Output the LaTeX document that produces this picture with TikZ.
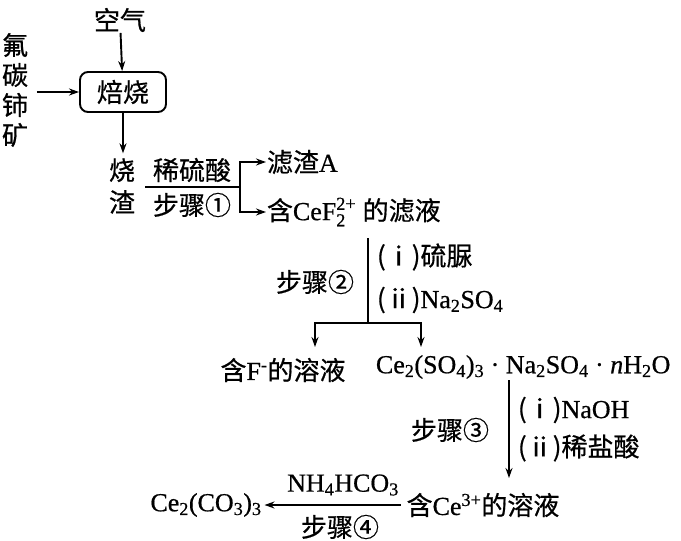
\documentclass[tikz,border=0pt]{standalone}
\usepackage{amsmath}
\usepackage{fontspec}
\setmainfont{Liberation Serif}[FakeBold=0.6]
\newfontfamily\cjk{Noto Sans CJK SC}[FakeBold=0.6]
\usetikzlibrary{arrows.meta}
\newcommand{\zh}[1]{{\cjk #1}}
\newcommand{\sub}[1]{\textsubscript{#1}}
\newcommand{\sups}[1]{\textsuperscript{#1}}
\begin{document}
\begin{tikzpicture}[x=1pt,y=-1pt,
  font=\fontsize{26}{30}\selectfont,
  line width=1.9pt,
  >={Stealth[length=10pt,width=7pt]},
  lbl/.style={inner sep=0pt},
  vert/.style={inner sep=0pt, align=center},
  procbox/.style={draw, rounded corners=8pt, minimum width=86pt, minimum height=40pt, inner sep=0pt}]
\useasboundingbox (0,0) rectangle (681,541);

% top
\node[lbl] (air) at (120,20) {\zh{空气}};
\node[procbox] (roast) at (123,92) {\zh{焙烧}};
\node[vert] (ore) at (15,90) {\zh{氟}\\\zh{碳}\\\zh{铈}\\\zh{矿}};
\draw[->] (air) -- (roast);
\draw[->, shorten <=8pt] (ore.east |- roast.west) -- (roast.west);

\node[vert, font=\fontsize{26}{32}\selectfont] (slag) at (122,186) {\zh{烧}\\\zh{渣}};
\draw[->, shorten >=4pt] (roast.south) -- (roast.south |- slag.north);

% step 1
\coordinate (s1) at (145,187);
\coordinate (j1) at (240,187);
\draw (s1) -- (j1);
\node[lbl] (acid) at (192,170) {\zh{稀硫酸}};
\node[lbl] (st1) at (192,205) {\zh{步骤①}};
\node[lbl, anchor=west] (fa) at (266,162) {\zh{滤渣}A};
\node[lbl, anchor=west] (fb) at (266,212) {\zh{含}Ce$\text{F}_{\text{2}}^{\text{2+}}$ \zh{的滤液}};
\draw[->] (j1) |- (fa.west);
\draw[->] (j1) |- (fb.west);

% step 2
\coordinate (t2) at (368,238);
\coordinate (j2) at (368,323);
\coordinate (aL) at (315,347);
\coordinate (aR) at (421,347);
\draw (t2) -- (j2);
\draw[->] (j2) -| (aL);
\draw[->] (j2) -| (aR);
\node[lbl, anchor=west] (r2a) at (376,257) {\zh{(ⅰ)硫脲}};
\node[lbl, anchor=west] (r2b) at (376,300) {\zh{(ⅱ)}Na\sub{2}SO\sub{4}};
\node[lbl] (st2) at (315,282) {\zh{步骤②}};

\node[lbl] (fsol) at (283,370) {\zh{含}F\sups{-}\zh{的溶液}};
\node[lbl, anchor=west] (salt) at (375,367) {Ce\sub{2}(SO\sub{4})\sub{3} · Na\sub{2}SO\sub{4} · \textit{n}H\sub{2}O};

% step 3
\coordinate (t3) at (509,380);
\coordinate (e3) at (509,478);
\draw[->] (t3) -- (e3);
\node[lbl, anchor=west] (r3a) at (517,410) {\zh{(ⅰ)}NaOH};
\node[lbl, anchor=west] (r3b) at (517,448) {\zh{(ⅱ)稀盐酸}};
\node[lbl] (st3) at (450,430) {\zh{步骤③}};

% step 4
\node[lbl] (ce3) at (483,505) {\zh{含}Ce\sups{3+}\zh{的溶液}};
\node[lbl] (carb) at (206,505) {Ce\sub{2}(CO\sub{3})\sub{3}};
\draw[->, shorten <=5pt, shorten >=2pt] (ce3.west) -- (carb.east);
\node[lbl] (nh4) at (343,485) {NH\sub{4}HCO\sub{3}};
\node[lbl] (st4) at (340,527) {\zh{步骤④}};
\end{tikzpicture}
\end{document}
